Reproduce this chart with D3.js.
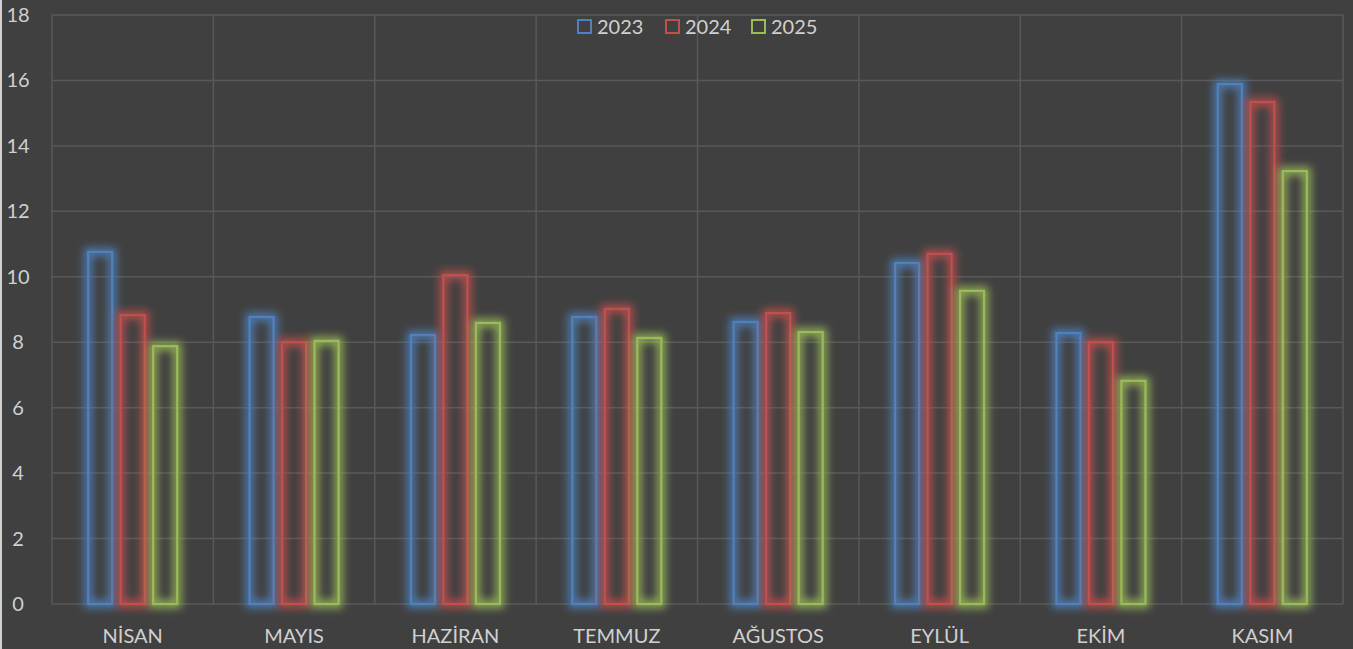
<!DOCTYPE html>
<html>
<head>
<meta charset="utf-8">
<script src="https://cdn.jsdelivr.net/npm/d3@7"></script>
<style>
  body { margin: 0; background: #404040; }
  svg { display: block; }
  text { font-family: Lato, "Open Sans", sans-serif; fill: #d0d0d0; }
</style>
</head>
<body>
<div id="chart"></div>
<script>
// chart data
var months = ["NİSAN", "MAYIS", "HAZİRAN", "TEMMUZ", "AĞUSTOS", "EYLÜL", "EKİM", "KASIM"];
var years = ["2023", "2024", "2025"];
var v2023 = [10.76, 8.77, 8.22, 8.77, 8.62, 10.42, 8.28, 15.89];
var v2024 = [8.83, 8.0, 10.05, 9.02, 8.89, 10.7, 8.0, 15.34];
var v2025 = [7.88, 8.04, 8.59, 8.13, 8.31, 9.57, 6.82, 13.23];
var yTicks = [0, 2, 4, 6, 8, 10, 12, 14, 16, 18];
var colors = ["#4f81bd", "#c0504d", "#9bbb59"];

var series = [v2023, v2024, v2025];

var W = 1353, H = 649;
var margin = {top: 15, right: 10, bottom: 45, left: 52},
    width = W - margin.left - margin.right,
    height = H - margin.top - margin.bottom;

var svg = d3.select("#chart").append("svg")
    .attr("width", W)
    .attr("height", H);

svg.append("rect").attr("width", W).attr("height", H).attr("fill", "#404040");
// thin light strip on left edge
svg.append("rect").attr("x", 0).attr("y", 0).attr("width", 2).attr("height", H).attr("fill", "#d0d0d0");

// glow filters
var defs = svg.append("defs");
colors.forEach(function(c, i) {
  var f = defs.append("filter").attr("id", "glow" + i)
      .attr("filterUnits", "userSpaceOnUse")
      .attr("x", -20).attr("y", -20).attr("width", W + 40).attr("height", H + 40);
  f.append("feMorphology").attr("in", "SourceGraphic").attr("operator", "dilate").attr("radius", 3).attr("result", "thick");
  f.append("feGaussianBlur").attr("in", "thick").attr("stdDeviation", 4).attr("result", "blur");
  f.append("feComponentTransfer").attr("in", "blur").attr("result", "fade")
    .append("feFuncA").attr("type", "linear").attr("slope", 0.9);
  var m = f.append("feMerge");
  m.append("feMergeNode").attr("in", "fade");
  m.append("feMergeNode").attr("in", "SourceGraphic");
});

var g = svg.append("g")
    .attr("transform", "translate(" + margin.left + "," + margin.top + ")");

var x0 = d3.scaleBand().domain(months).range([0, width]);
var x1 = d3.scaleBand().domain(years).range([-44.5, 44.5]).paddingInner(0.26);
var y = d3.scaleLinear().domain([0, 18]).range([height, 0]);

// horizontal grid
g.selectAll(".hgrid").data(yTicks).enter().append("line")
    .attr("x1", 0).attr("x2", width)
    .attr("y1", function(d) { return y(d); })
    .attr("y2", function(d) { return y(d); })
    .attr("stroke", "#595959").attr("stroke-width", 1.5);

// vertical grid at category boundaries
var bounds = months.map(function(m) { return x0(m); }).concat([width]);
g.selectAll(".vgrid").data(bounds).enter().append("line")
    .attr("x1", function(d) { return d; }).attr("x2", function(d) { return d; })
    .attr("y1", 0).attr("y2", height)
    .attr("stroke", "#595959").attr("stroke-width", 1.5);

// y axis labels
g.selectAll(".ylab").data(yTicks).enter().append("text")
    .attr("x", -34).attr("y", function(d) { return y(d); })
    .attr("dy", "0.35em").attr("text-anchor", "middle")
    .style("font-size", "20px")
    .text(function(d) { return d; });

// x axis labels
g.selectAll(".xlab").data(months).enter().append("text")
    .attr("x", function(d) { return x0(d) + x0.bandwidth() / 2; })
    .attr("y", height + 39)
    .attr("text-anchor", "middle")
    .style("font-size", "20px")
    .text(function(d) { return d; });

// bars
series.forEach(function(vals, si) {
  g.append("g").attr("filter", "url(#glow" + si + ")")
    .selectAll("rect").data(vals).enter().append("rect")
      .attr("x", function(d, i) { return x0(months[i]) + x0.bandwidth() / 2 + x1(years[si]); })
      .attr("y", function(d) { return y(d); })
      .attr("width", x1.bandwidth())
      .attr("height", function(d) { return height - y(d); })
      .attr("fill", "none")
      .attr("stroke", colors[si])
      .attr("stroke-width", 2.2);
});

// legend
var legendX = [578, 666, 752];
var legend = svg.append("g");
years.forEach(function(yr, i) {
  legend.append("rect")
      .attr("x", legendX[i]).attr("y", 20).attr("width", 13).attr("height", 13)
      .attr("fill", "none").attr("stroke", colors[i]).attr("stroke-width", 2);
  legend.append("text")
      .attr("x", legendX[i] + 19).attr("y", 27).attr("dy", "0.35em")
      .style("font-size", "20px")
      .text(yr);
});
</script>
</body>
</html>
